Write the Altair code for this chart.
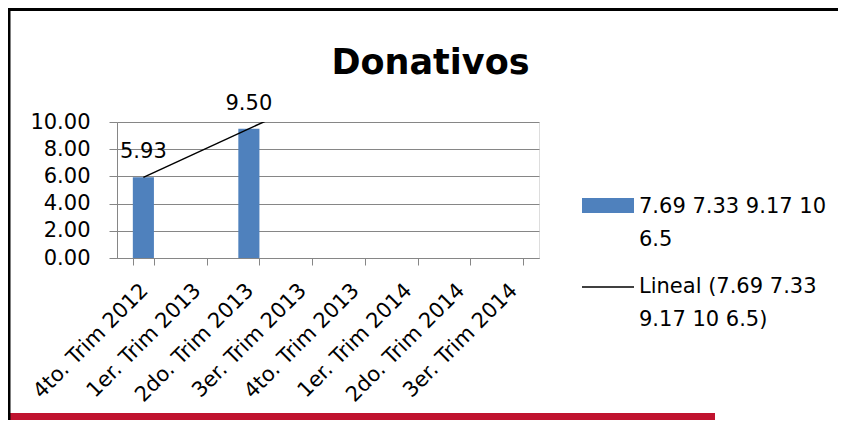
import altair as alt
import pandas as pd

# ---- data ----
categories = ["4to. Trim 2012", "1er. Trim 2013", "2do. Trim 2013", "3er. Trim 2013",
              "4to. Trim 2013", "1er. Trim 2014", "2do. Trim 2014", "3er. Trim 2014"]
values = [5.93, None, 9.50, None, None, None, None, None]
y_ticks = [0, 2, 4, 6, 8, 10]
title_text = "Donativos"
legend_series = ["7.69 7.33 9.17 10", "6.5"]
legend_trend = ["Lineal (7.69 7.33", "9.17 10 6.5)"]

FONT = "DejaVu Sans"
FS = 21
BLUE = "#4F81BD"
GRID = "#868686"
RED = "#C0132F"

W, H = 422, 136
PAD_L, PAD_T = 109, 114
TOTAL_W, TOTAL_H = 830, 412

df = pd.DataFrame({"cat": categories, "idx": list(range(1, len(categories) + 1)), "value": values})

base = alt.Chart(df)

y_axis = alt.Axis(values=y_ticks, format=".2f", title=None, tickSize=8, labelPadding=19,
                  gridColor=GRID, domainColor=GRID, tickColor=GRID, labelFont=FONT,
                  labelFontSize=FS, labelColor="black", grid=True,
                  labelOverlap=False, labelBound=False, labelFlush=False)
y_scale = alt.Scale(domain=[0, 10], nice=False, zero=True)
y_enc = alt.Y("value:Q", scale=y_scale, axis=y_axis)

x_band = alt.X("cat:N", sort=categories,
               scale=alt.Scale(paddingInner=0.6, paddingOuter=0.3),
               axis=alt.Axis(title=None, labelAngle=-45, labelAlign="right", labelBaseline="middle",
                             tickBand="extent", domainColor=GRID, tickColor=GRID, tickSize=7,
                             labelFont=FONT, labelFontSize=FS, labelColor="black", grid=False,
                             labelPadding=22, labelOffset=1, labelOverlap=False, labelLimit=300))

bars = base.mark_bar(color=BLUE).encode(x=x_band, y=y_enc)

labels = base.transform_filter("isValid(datum.value)").mark_text(
    font=FONT, fontSize=FS, color="black", baseline="middle", dy=-25
).encode(x=x_band, y=y_enc, text=alt.Text("value:Q", format=".2f"))

columns = alt.layer(bars, labels)

trend = base.transform_filter("isValid(datum.value)").transform_regression(
    "idx", "value", extent=[1, len(categories)]
).mark_line(color="black", strokeWidth=1.5, clip=True).encode(
    x=alt.X("idx:Q", scale=alt.Scale(domain=[0.5, len(categories) + 0.5], nice=False, zero=False), axis=None),
    y=y_enc,
)

one = alt.Chart(alt.Data(values=[{"k": 0}]))

# title
title = alt.Chart(alt.Data(values=[{"t": title_text}])).mark_text(
    font=FONT, fontSize=35, fontWeight="bold", color="black", align="center", baseline="alphabetic"
).encode(x=alt.value(313.5), y=alt.value(-48), text="t:N")

# legend (drawn beside the plot)
leg_swatch = one.mark_rect(color=BLUE).encode(
    x=alt.value(465), x2=alt.value(517), y=alt.value(76), y2=alt.value(91))
leg_line = one.mark_rule(color="black", strokeWidth=1.5).encode(
    x=alt.value(465), x2=alt.value(517), y=alt.value(165))
leg_text1 = alt.Chart(alt.Data(values=[{"t": legend_series}])).mark_text(
    font=FONT, fontSize=FS, align="left", baseline="middle", lineHeight=33, color="black"
).encode(x=alt.value(522), y=alt.value(85), text="t:N")
leg_text2 = alt.Chart(alt.Data(values=[{"t": legend_trend}])).mark_text(
    font=FONT, fontSize=FS, align="left", baseline="middle", lineHeight=33, color="black"
).encode(x=alt.value(522), y=alt.value(165), text="t:N")

# slide decorations: red band and black frame
red_band = one.mark_rect(color=RED).encode(
    x=alt.value(-PAD_L), x2=alt.value(598), y=alt.value(291), y2=alt.value(TOTAL_H - PAD_T))
frame_left = one.mark_rule(color="black", strokeWidth=3).encode(
    x=alt.value(-108), y=alt.value(-114), y2=alt.value(TOTAL_H - PAD_T))
frame_top = one.mark_rule(color="black", strokeWidth=3).encode(
    x=alt.value(-109), x2=alt.value(TOTAL_W - PAD_L), y=alt.value(-112.5))

chart = alt.layer(
    columns, trend, title, leg_swatch, leg_line, leg_text1, leg_text2, red_band, frame_left, frame_top
).resolve_scale(x="independent").properties(
    width=W, height=H,
    autosize=alt.AutoSizeParams(type="none"),
    padding={"left": PAD_L, "top": PAD_T, "right": TOTAL_W - PAD_L - W, "bottom": TOTAL_H - PAD_T - H},
).configure_view(stroke=None).configure(background="white")

chart.save("out.html", embed_options={"renderer": "svg", "actions": False})
